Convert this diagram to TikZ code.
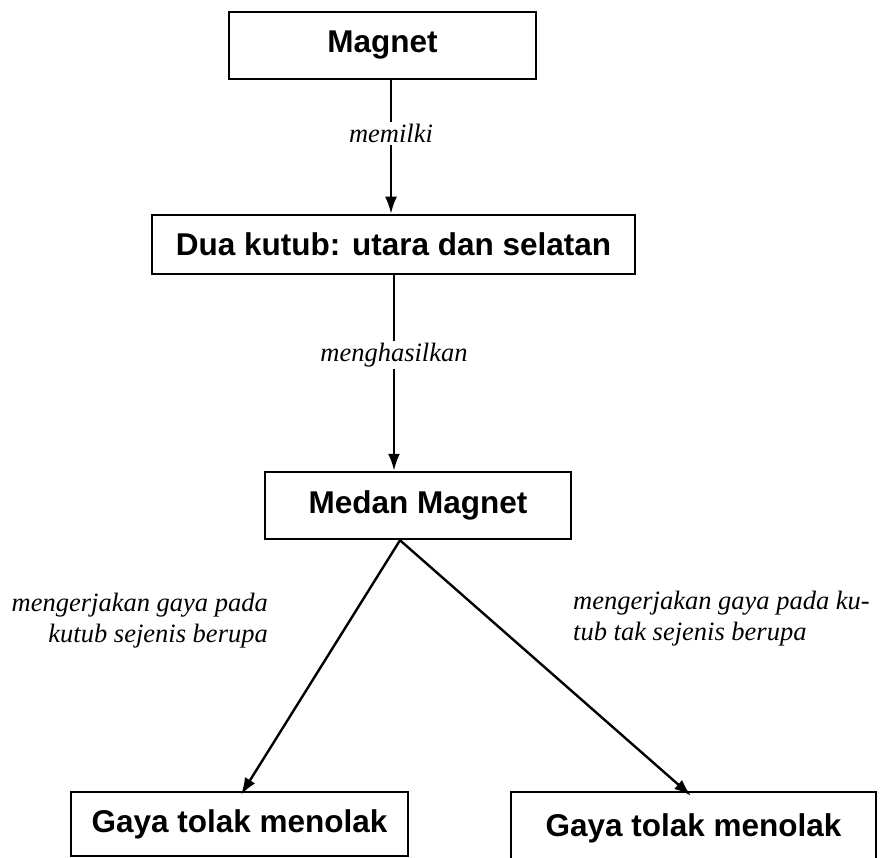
\documentclass[tikz,border=0pt]{standalone}
\usepackage{fontspec}
\setmainfont{Liberation Serif}
\setsansfont{Liberation Sans}
\usetikzlibrary{arrows.meta}
\begin{document}
\begin{tikzpicture}[x=1pt,y=-1pt,
  box/.style={draw, line width=2.5pt, inner sep=0pt, font=\sffamily\bfseries\fontsize{31.5}{36}\selectfont},
  arr/.style={line width=2.4pt, -{Latex[length=17pt,width=12pt]}},
  lbl/.style={fill=white, inner sep=2pt, font=\itshape\fontsize{26.5}{31}\selectfont},
  side/.style={inner sep=0pt, font=\itshape\fontsize{26.5}{31}\selectfont}]
\useasboundingbox (0,0) rectangle (881,858);
\node[box, minimum width=307pt, minimum height=67pt] (m) at (382.5,45.5) {Magnet};
\node[box, minimum width=483pt, minimum height=59pt] (dk) at (393.5,244.5) {Dua kutub: utara dan selatan};
\node[box, minimum width=306pt, minimum height=67pt] (mm) at (418,505.5) {Medan Magnet};
\node[box, minimum width=337pt, minimum height=64pt] (g1) at (239.5,824) {Gaya tolak menolak};
\node[box, minimum width=365pt, minimum height=72pt] (g2) at (693.5,828) {Gaya tolak menolak};
\draw[arr] ([xshift=8.5pt]m.south) -- node[lbl, pos=0.4] {memilki} ([xshift=-2.5pt]dk.north);
\draw[arr] ([xshift=0.5pt]dk.south) -- node[lbl, pos=0.41] {menghasilkan} ([xshift=-24pt]mm.north);
\coordinate (sp) at ([xshift=-18pt]mm.south);
\draw[arr] (sp) -- ([xshift=1.5pt,yshift=-4pt]g1.north);
\draw[arr] (sp) -- ([xshift=-2.5pt,yshift=-5pt]g2.north);
\node[side, align=right, anchor=base east] (l1) at (268,642) {mengerjakan gaya pada\\kutub sejenis berupa};
\node[side, align=left, anchor=base west] (l2) at (573,640) {mengerjakan gaya pada ku-\\tub tak sejenis berupa};
\end{tikzpicture}
\end{document}
